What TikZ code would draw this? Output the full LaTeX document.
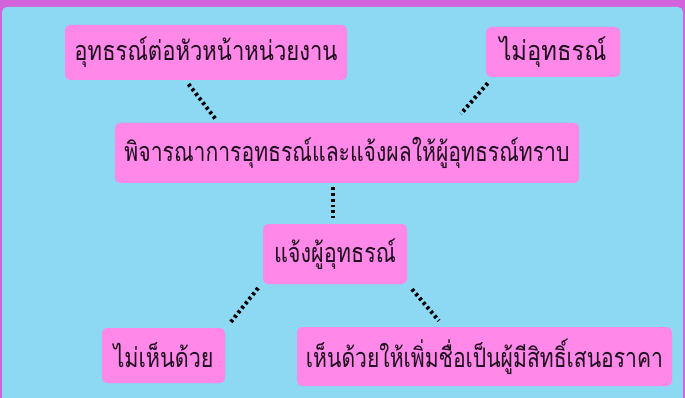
\documentclass[tikz,border=0pt]{standalone}
\usepackage{fontspec}
\usepackage{graphicx}
\newfontfamily\thaifont[Script=Thai]{Loma}
\definecolor{bgmag}{HTML}{D263DA}
\definecolor{panelblue}{HTML}{8DD8F3}
\definecolor{boxpink}{HTML}{FF88E8}
\definecolor{txt}{HTML}{1E0E1E}
\tikzset{
  box/.style={rectangle, rounded corners=5pt, fill=boxpink, inner sep=0pt, text=txt, font=\thaifont\fontsize{27}{31}\selectfont},
  conn/.style={draw=black, line width=4pt, dash pattern=on 2.8pt off 3pt}
}
\newcommand{\fitw}[2]{\resizebox{#1}{\height}{#2}}
\begin{document}
\begin{tikzpicture}[x=1pt,y=-1pt]
\useasboundingbox (0,0) rectangle (685,398);
\fill[bgmag] (0,0) rectangle (685,398);
\fill[panelblue, rounded corners=5pt] (2,7) rectangle (683,410);
\node[box, minimum width=282pt, minimum height=55pt] (b1) at (206,52.5) {\fitw{263pt}{อุทธรณ์ต่อหัวหน้าหน่วยงาน}};
\node[box, minimum width=134pt, minimum height=50pt] (b2) at (553,52) {\fitw{107pt}{ไม่อุทธรณ์}};
\node[box, minimum width=464pt, minimum height=60pt] (b3) at (347,153) {\fitw{445pt}{พิจารณาการอุทธรณ์และแจ้งผลให้ผู้อุทธรณ์ทราบ}};
\node[box, minimum width=144pt, minimum height=60pt] (b4) at (335,254) {\fitw{122pt}{แจ้งผู้อุทธรณ์}};
\node[box, minimum width=123pt, minimum height=55pt] (b5) at (163.5,355.5) {\fitw{100pt}{ไม่เห็นด้วย}};
\node[box, minimum width=375pt, minimum height=59pt] (b6) at (484.5,356.5) {\fitw{357pt}{เห็นด้วยให้เพิ่มชื่อเป็นผู้มีสิทธิ์เสนอราคา}};
\draw[conn, shorten <=5pt, shorten >=5pt] ([xshift=-20.5pt]b1.south) -- ([xshift=-128.5pt]b3.north);
\draw[conn, shorten <=8pt, shorten >=12pt] ([xshift=-60pt]b2.south) -- ([xshift=106pt]b3.north);
\draw[conn, shorten <=4pt, shorten >=6pt] ([xshift=-14pt]b3.south) -- ([xshift=-2pt]b4.north);
\draw[conn, shorten <=5pt, shorten >=7.6pt] ([xshift=-73.8pt]b4.south) -- ([xshift=62.7pt]b5.north);
\draw[conn, shorten <=6.5pt, shorten >=7.9pt] ([xshift=72.8pt]b4.south) -- ([xshift=-40.5pt]b6.north);
\end{tikzpicture}
\end{document}
